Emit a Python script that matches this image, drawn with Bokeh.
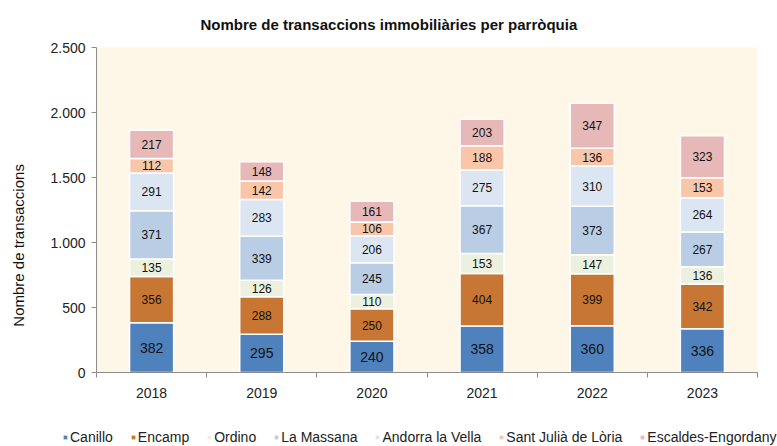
import numpy as np
from bokeh.plotting import figure
from bokeh.models import (Range1d, FixedTicker, Legend, LegendItem,
                          ColumnDataSource)
from bokeh.embed import file_html
from bokeh.resources import INLINE
from bokeh.core.properties import value

# ---------------- data ----------------
years = ["2018", "2019", "2020", "2021", "2022", "2023"]
parishes = ["Canillo", "Encamp", "Ordino", "La Massana", "Andorra la Vella",
            "Sant Julià de Lòria", "Escaldes-Engordany"]
canillo = [382, 295, 240, 358, 360, 336]
encamp = [356, 288, 250, 404, 399, 342]
ordino = [135, 126, 110, 153, 147, 136]
la_massana = [371, 339, 245, 367, 373, 267]
andorra_la_vella = [291, 283, 206, 275, 310, 264]
sant_julia = [112, 142, 106, 188, 136, 153]
escaldes = [217, 148, 161, 203, 347, 323]
y_ticks = [0, 500, 1000, 1500, 2000, 2500]

series = [canillo, encamp, ordino, la_massana, andorra_la_vella, sant_julia, escaldes]
colors = ["#4F81BD", "#C77634", "#EBF1DE", "#B9CDE5", "#DCE6F2", "#FAC6AA", "#E6B9B8"]

FONT = "Liberation Sans"

xs = [i + 0.5 for i in range(len(years))]
data = {"x": xs}
for name, vals in zip(parishes, series):
    data[name] = vals
source = ColumnDataSource(data)

W, H, HL = 777, 428, 18
p = figure(width=W, height=H, output_backend="svg", toolbar_location=None,
           x_range=Range1d(0, len(years)), y_range=Range1d(0, 2500),
           min_border_left=96, min_border_right=20, min_border_top=47,
           min_border_bottom=56)
p.background_fill_color = "#FEF6E7"
p.border_fill_color = "white"
p.outline_line_color = None
p.xgrid.visible = False
p.ygrid.visible = False

p.vbar_stack(parishes, x="x", width=0.4, color=colors,
             line_color="white", line_width=1.5, source=source)

# value labels
arr = np.array(series, dtype=float)
bottoms = np.vstack([np.zeros(arr.shape[1]), np.cumsum(arr, axis=0)[:-1]])
mids = bottoms + arr / 2
for k in range(len(parishes)):
    ts = ColumnDataSource(dict(x=xs, y=mids[k], t=[str(v) for v in series[k]]))
    p.text(x="x", y="y", text="t", source=ts, text_align="center",
           text_baseline="middle", text_font=value(FONT),
           text_font_size="14px" if k == 0 else "12px", text_color="#111111")

# title
p.title.text = "Nombre de transaccions immobiliàries per parròquia"
p.title.text_font = FONT
p.title.text_font_size = "15px"
p.title.text_font_style = "bold"
p.title.text_color = "#111111"
p.title.align = "left"
p.title.offset = 104
p.title.standoff = 26
p.title.vertical_align = "top"

# y axis
yax = p.yaxis[0]
yax.ticker = FixedTicker(ticks=y_ticks)
yax.major_label_overrides = {t: f"{t:,}".replace(",", ".") for t in y_ticks}
yax.major_label_text_font = FONT
yax.major_label_text_font_size = "14px"
yax.major_label_text_color = "#222222"
yax.axis_line_color = "#8C8C8C"
yax.major_tick_line_color = "#8C8C8C"
yax.major_tick_out = 5
yax.major_tick_in = 0
yax.minor_tick_line_color = None
yax.major_label_standoff = 6
yax.axis_label = "Nombre de transaccions" + "\u00a0" * 17
yax.axis_label_text_font = FONT
yax.axis_label_text_font_size = "15px"
yax.axis_label_text_font_style = "normal"
yax.axis_label_text_color = "#111111"
yax.axis_label_standoff = 20

# x axis
xax = p.xaxis[0]
xax.ticker = FixedTicker(ticks=xs, minor_ticks=list(range(len(years) + 1)))
xax.major_label_overrides = {x: y for x, y in zip(xs, years)}
xax.major_label_text_font = FONT
xax.major_label_text_font_size = "14px"
xax.major_label_text_color = "#222222"
xax.axis_line_color = "#8C8C8C"
xax.major_tick_line_color = None
xax.minor_tick_line_color = "#8C8C8C"
xax.minor_tick_out = 5
xax.minor_tick_in = 0
xax.major_label_standoff = 9

# legend strip: its own root (no frame alignment with the chart)
pl = figure(width=W, height=HL, output_backend="svg", toolbar_location=None,
            x_range=Range1d(0, 1), y_range=Range1d(0, 1),
            x_axis_type=None, y_axis_type=None,
            min_border=0, min_border_left=0, min_border_right=0,
            min_border_top=0, min_border_bottom=0, outline_line_color=None)
pl.grid.visible = False
ghost = ColumnDataSource({**{n: [0] for n in parishes}, "x": [-10]})
lrs = pl.vbar_stack(parishes, x="x", width=0.4, color=colors,
                    line_color="white", line_width=1, source=ghost)
legend = Legend(items=[LegendItem(label=n, renderers=[r]) for n, r in zip(parishes, lrs)],
                orientation="horizontal", location=(62, 1),
                glyph_width=6, glyph_height=6, label_standoff=2, spacing=17,
                padding=0, margin=0, border_line_alpha=0, background_fill_alpha=0,
                label_text_font=FONT, label_text_font_size="14px",
                label_text_color="#222222", label_height=14)
pl.add_layout(legend, "center")

open("out.html", "w").write(file_html([p, pl], INLINE))
